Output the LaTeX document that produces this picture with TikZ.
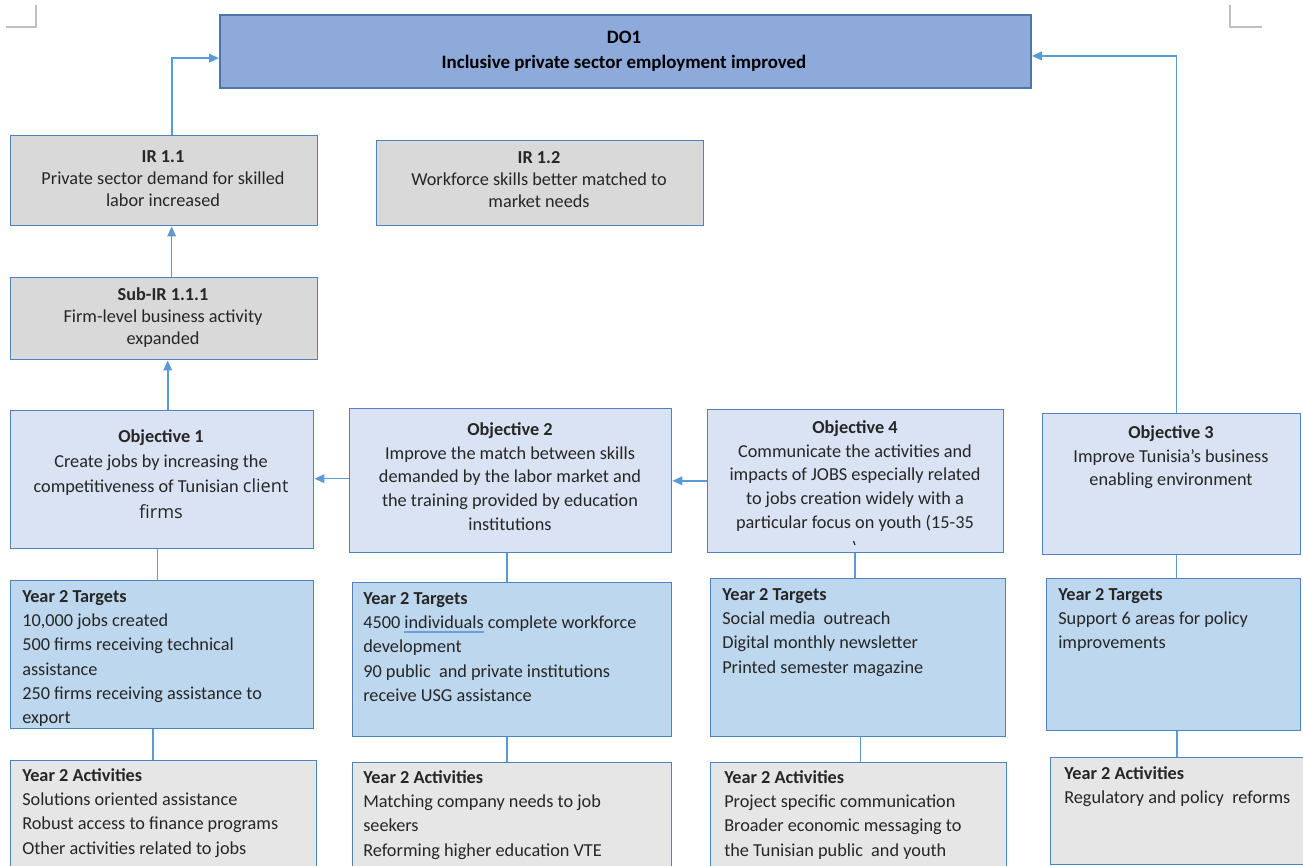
\documentclass[tikz,border=0pt]{standalone}
\usepackage{fontspec}
\setmainfont{Carlito}
\newfontfamily\wideface{Open Sans}
\usetikzlibrary{arrows.meta,calc}

\definecolor{dofill}{HTML}{8EAADB}
\definecolor{doline}{HTML}{4A76A8}
\definecolor{grayfill}{HTML}{D9D9D9}
\definecolor{objfill}{HTML}{DAE3F3}
\definecolor{tgtfill}{HTML}{BDD7EE}
\definecolor{actfill}{HTML}{E6E6E6}
\definecolor{boxline}{HTML}{4F82BE}
\definecolor{linkcol}{HTML}{5B9BD5}
\definecolor{txtcol}{HTML}{262626}
\definecolor{ulblue}{HTML}{6F9FD8}
\definecolor{markgray}{HTML}{BFBFBF}

% blue wavy-style underline under a flagged word
\newlength\ulwd
\newcommand\spellmark[1]{\settowidth\ulwd{#1}\rlap{\textcolor{ulblue}{\rule[-3pt]{\ulwd}{1.3pt}}}#1}
% fixed first-line height so every text block starts at a known baseline
\newcommand\topstrut{\rule{0pt}{12pt}}

% rectangular panel given by its corners (x1,y1) (x2,y2)
\newcommand\panel[6]{%
  \node[#2, anchor=north west, inner sep=0pt,
        minimum width={(#5-#3)*0.75pt}, minimum height={(#6-#4)*0.75pt}] (#1) at (#3,#4) {};}

\tikzset{
  boxbase/.style={draw=boxline, line width=1.1pt},
  goalbox/.style={draw=doline, fill=dofill, line width=1.4pt},
  irbox/.style={boxbase, fill=grayfill},
  objbox/.style={boxbase, fill=objfill},
  tgtbox/.style={boxbase, fill=tgtfill},
  actbox/.style={boxbase, fill=actfill},
  ctext/.style={anchor=north, inner sep=0pt, yshift=12pt, align=center, text=txtcol},
  ltext/.style={anchor=north west, inner sep=0pt, yshift=12pt, align=left, text=txtcol},
  irfont/.style={font=\fontsize{13.7}{16.5}\selectfont},
  objfont/.style={font=\fontsize{13.7}{17.8}\selectfont},
  listfont/.style={font=\fontsize{13.7}{18.2}\selectfont},
  link/.style={draw=linkcol, line width=1.2pt},
  arrow/.style={link, -{Triangle[length=7.5pt, width=6.5pt]}},
  cornermark/.style={draw=markgray, line width=1.1pt},
}

\begin{document}
\begin{tikzpicture}[x=0.75pt, y=-0.75pt]
\path[use as bounding box, clip] (0,0) rectangle (1303,866);
\fill[white] (0,0) rectangle (1303,866);

% page corner marks
\draw[cornermark] (6,27) -- (36,27) -- (36,5);
\draw[cornermark] (1230,5) -- (1230,27) -- (1262,27);

% panels
\panel{do1}{goalbox}{219}{14}{1030}{87}
\panel{ir11}{irbox}{10}{135}{317}{225}
\panel{ir12}{irbox}{376}{140}{703}{225}
\panel{sub}{irbox}{10}{277}{317}{359}
\panel{obj1}{objbox}{10}{410}{313}{548}
\panel{obj2}{objbox}{349}{408}{671}{552}
\panel{obj4}{objbox}{707}{409}{1003}{552}
\panel{obj3}{objbox}{1042}{413}{1300}{554}
\panel{t1}{tgtbox}{10}{580}{313}{728}
\panel{t2}{tgtbox}{352}{582}{671}{736}
\panel{t4}{tgtbox}{710}{578}{1005}{736}
\panel{t3}{tgtbox}{1046}{578}{1300}{730}
\panel{a1}{actbox}{10}{760}{316}{885}
\panel{a2}{actbox}{352}{762}{671}{885}
\panel{a4}{actbox}{710}{762}{1006}{885}
\panel{a3}{actbox}{1050}{757}{1312}{864}

% goal
\node[ctext, text=black, font=\fontsize{14.2}{18.8}\selectfont\bfseries] (do1txt) at (624,43)
  {\topstrut DO1\\Inclusive private sector employment improved};

% intermediate results
\node[ctext, irfont] (ir11txt) at (163,162)
  {\topstrut\textbf{IR 1.1}\\Private sector demand for skilled\\labor increased};
\node[ctext, irfont] (ir12txt) at (539,163)
  {\topstrut\textbf{IR 1.2}\\Workforce skills better matched to\\market needs};
\node[ctext, irfont] (subtxt) at (163,300)
  {\topstrut\textbf{Sub-IR 1.1.1}\\Firm-level business activity\\expanded};

% objectives
\node[ctext, font=\fontsize{13.7}{18.8}\selectfont] (obj1txt) at (161,442)
  {\topstrut\textbf{Objective 1}\\Create jobs by increasing the\\competitiveness of Tunisian {\wideface\fontsize{13.6}{18.8}\selectfont client}\\[1pt]
   {\wideface\fontsize{13.6}{18.8}\selectfont firms}};
\node[ctext, objfont] (obj2txt) at (510,435)
  {\topstrut\textbf{Objective 2}\\Improve the match between skills\\demanded by the labor market and\\the training provided by education\\institutions};
\node[ctext, objfont] (obj4txt) at (855,433)
  {\topstrut\textbf{Objective 4}\\Communicate the activities and\\impacts of JOBS especially related\\to jobs creation widely with a\\particular focus on youth (15-35};
\draw[txtcol, line width=0.9pt] (853.5,541) -- (855,545);
\node[ctext, objfont] (obj3txt) at (1171,438)
  {\topstrut\textbf{Objective 3}\\Improve Tunisia’s business\\enabling environment};

% year 2 targets
\node[ltext, listfont] (t1txt) at (22,602)
  {\topstrut\textbf{Year 2 Targets}\\10,000 jobs created\\500 firms receiving technical\\assistance\\250 firms receiving assistance to\\export};
\node[ltext, listfont] (t2txt) at (363,604)
  {\topstrut\textbf{Year 2 Targets}\\4500 \spellmark{individuals} complete workforce\\development\\90 public\ \ and private institutions\\receive USG assistance};
\node[ltext, listfont] (t4txt) at (722,600)
  {\topstrut\textbf{Year 2 Targets}\\Social media\ \ outreach\\Digital monthly newsletter\\Printed semester magazine};
\node[ltext, listfont] (t3txt) at (1058,600)
  {\topstrut\textbf{Year 2 Targets}\\Support 6 areas for policy\\improvements};

% year 2 activities
\node[ltext, listfont] (a1txt) at (22,781)
  {\topstrut\textbf{Year 2 Activities}\\Solutions oriented assistance\\Robust access to finance programs\\Other activities related to jobs};
\node[ltext, listfont] (a2txt) at (363,783)
  {\topstrut\textbf{Year 2 Activities}\\Matching company needs to job\\seekers\\Reforming higher education VTE};
\node[ltext, listfont] (a4txt) at (724,783)
  {\topstrut\textbf{Year 2 Activities}\\Project specific communication\\Broader economic messaging to\\the Tunisian public\ \ and youth};
\node[ltext, listfont] (a3txt) at (1064,779)
  {\topstrut\textbf{Year 2 Activities}\\Regulatory and policy\ \ reforms};

% connector end points on the panel borders
\coordinate (pir11) at ($(ir11.north west)!0.525!(ir11.north east)$);
\coordinate (pdoL)  at ($(do1.north west)!0.59!(do1.south west)$);
\coordinate (psub)  at ($(sub.north west)!0.524!(sub.north east)$);
\coordinate (pobj1) at ($(obj1.north west)!0.518!(obj1.north east)$);
\coordinate (pobj2) at ($(obj2.north west)!0.486!(obj2.south west)$);
\coordinate (pobj4) at ($(obj4.north west)!0.497!(obj4.south west)$);
\coordinate (pobj3) at ($(obj3.north west)!0.519!(obj3.north east)$);
\coordinate (pdoR)  at ($(do1.north east)!0.56!(do1.south east)$);
\coordinate (d1) at ($(obj1.south west)!0.485!(obj1.south east)$);
\coordinate (d2) at ($(obj2.south west)!0.488!(obj2.south east)$);
\coordinate (d4) at ($(obj4.south west)!0.497!(obj4.south east)$);
\coordinate (d3) at ($(obj3.south west)!0.519!(obj3.south east)$);
\coordinate (e1) at ($(t1.south west)!0.470!(t1.south east)$);
\coordinate (e2) at ($(t2.south west)!0.483!(t2.south east)$);
\coordinate (e4) at ($(t4.south west)!0.508!(t4.south east)$);
\coordinate (e3) at ($(t3.south west)!0.512!(t3.south east)$);

% arrows toward the goal
\draw[arrow] (pir11) |- (pdoL);
\draw[arrow] (pobj3) |- (pdoR);
\draw[arrow] (psub) -- (psub |- ir11.south);
\draw[arrow] (pobj1) -- (pobj1 |- sub.south);
\draw[arrow] (pobj2) -- (pobj2 -| obj1.east);
\draw[arrow] (pobj4) -- (pobj4 -| obj2.east);

% plain links down each column
\draw[link] (d1) -- (d1 |- t1.north);
\draw[link] (d2) -- (d2 |- t2.north);
\draw[link] (d4) -- (d4 |- t4.north);
\draw[link] (d3) -- (d3 |- t3.north);
\draw[link] (e1) -- (e1 |- a1.north);
\draw[link] (e2) -- (e2 |- a2.north);
\draw[link] (e4) -- (e4 |- a4.north);
\draw[link] (e3) -- (e3 |- a3.north);
\end{tikzpicture}
\end{document}
